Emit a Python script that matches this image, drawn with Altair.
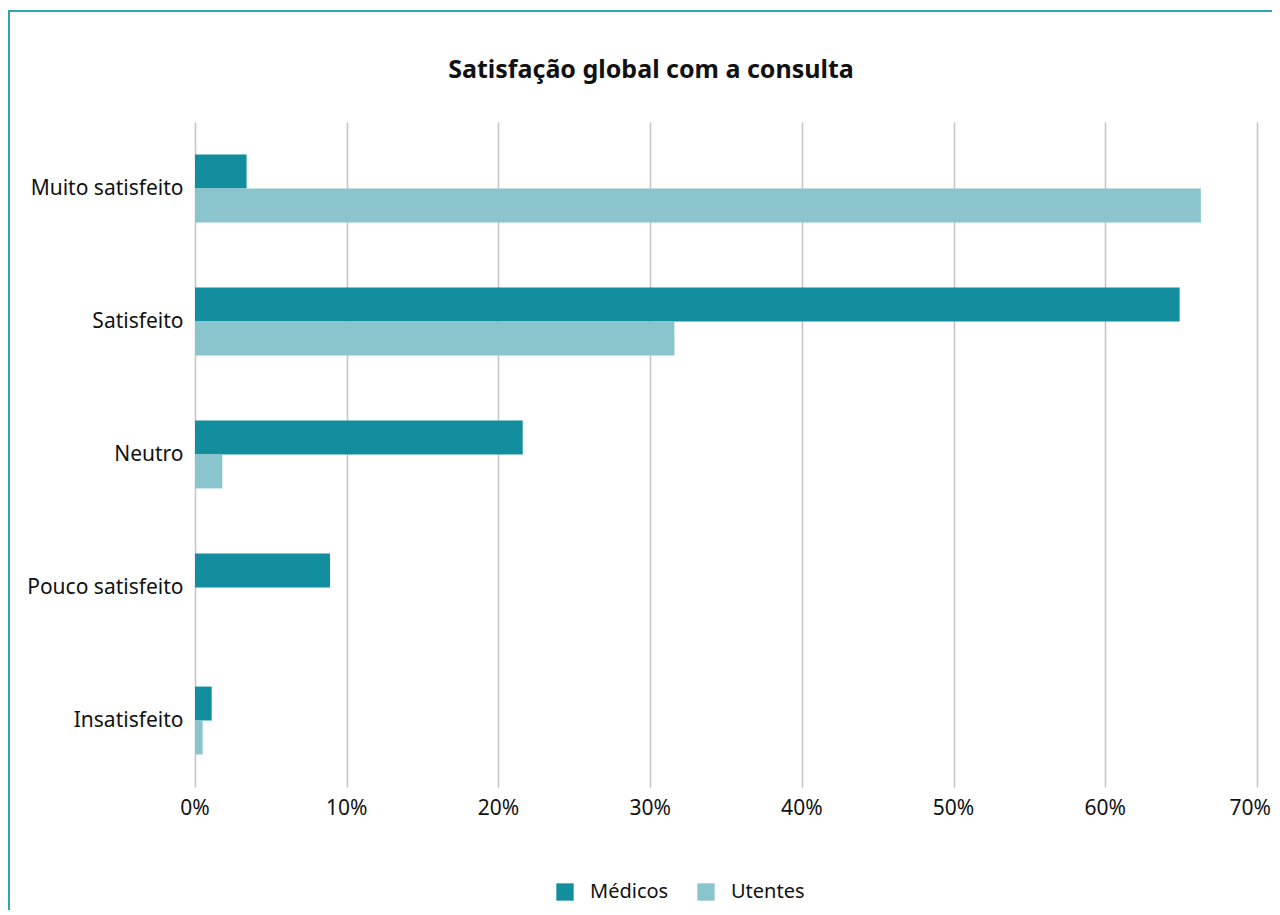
import altair as alt
import pandas as pd

categories = ["Muito satisfeito", "Satisfeito", "Neutro", "Pouco satisfeito", "Insatisfeito"]
medicos = [0.034, 0.649, 0.216, 0.089, 0.011]
utentes = [0.663, 0.316, 0.018, 0.0, 0.005]
series = ["Médicos", "Utentes"]
colors = ["#138E9F", "#8AC5CE"]
x_ticks = [0, 0.1, 0.2, 0.3, 0.4, 0.5, 0.6, 0.7]
x_tick_labels = ["0%", "10%", "20%", "30%", "40%", "50%", "60%", "70%"]
title_text = "Satisfação global com a consulta"

rows = []
for c, m, u in zip(categories, medicos, utentes):
    rows.append({"cat": c, "serie": "Médicos", "val": m})
    rows.append({"cat": c, "serie": "Utentes", "val": u})
df = pd.DataFrame(rows)
ticks_df = pd.DataFrame({"v": x_ticks, "lab": x_tick_labels})

FONT = "Noto Sans"
TXT = "#111111"
FS = 21
H = 665

xscale = alt.Scale(domain=[0, 0.7], nice=False)

bars = alt.Chart(df).mark_bar().encode(
    x=alt.X("val:Q", scale=xscale,
            axis=alt.Axis(values=x_ticks, title=None, grid=True, labels=False,
                          gridColor="#c4c4c4", gridWidth=1.5, domain=False, ticks=False)),
    y=alt.Y("cat:N", sort=categories,
            scale=alt.Scale(paddingInner=0.49, paddingOuter=0.245),
            axis=alt.Axis(title=None, domain=False, ticks=False, grid=False,
                          labelPadding=12, labelFontSize=FS, labelColor=TXT,
                          labelFont=FONT)),
    yOffset=alt.YOffset("serie:N", sort=series, scale=alt.Scale(paddingInner=0, paddingOuter=0)),
    color=alt.Color("serie:N", sort=series,
                    scale=alt.Scale(domain=series, range=colors),
                    legend=alt.Legend(title=None, orient="none", legendX=360, legendY=760,
                                      direction="horizontal", symbolType="square",
                                      symbolSize=300, symbolStrokeWidth=0,
                                      labelFontSize=20, labelFont=FONT, labelColor=TXT,
                                      labelOffset=15, columnPadding=27)),
)

xlabels_main = alt.Chart(ticks_df).transform_filter("datum.v < 0.69").mark_text(
    font=FONT, fontSize=FS, color=TXT, align="center", baseline="middle"
).encode(x=alt.X("v:Q", scale=xscale), y=alt.value(H + 22), text="lab:N")

xlabels_last = alt.Chart(ticks_df).transform_filter("datum.v >= 0.69").mark_text(
    font=FONT, fontSize=FS, color=TXT, align="right", baseline="middle", dx=14
).encode(x=alt.X("v:Q", scale=xscale), y=alt.value(H + 22), text="lab:N")

title = alt.Chart(pd.DataFrame({"t": [title_text]})).mark_text(
    font=FONT, fontSize=25, fontWeight="bold", color=TXT, align="center", baseline="middle"
).encode(text="t:N", x=alt.value(456), y=alt.value(-52))

border = alt.Chart(pd.DataFrame({"a": [0]})).mark_rect(
    fill=None, stroke="#2BA6B5", strokeWidth=2, clip=False
).encode(
    x=alt.value(-186), x2=alt.value(1200),
    y=alt.value(-111), y2=alt.value(1000),
)

chart = alt.layer(border, title, bars, xlabels_main, xlabels_last).properties(
    width=1062, height=H,
    autosize=alt.AutoSizeParams(type="none"),
    padding={"left": 187, "top": 114, "right": 15, "bottom": 123},
).configure_view(stroke=None)

chart.save("out.html", embed_options={"renderer": "svg", "actions": False})
